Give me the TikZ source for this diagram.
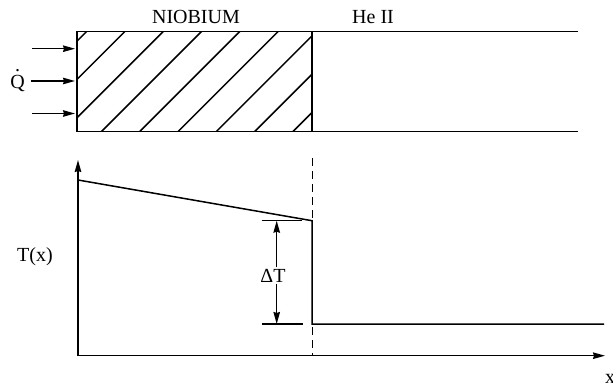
\documentclass[tikz,border=0pt]{standalone}
\usepackage{fontspec}
\setmainfont{Liberation Serif}
\usetikzlibrary{arrows.meta}
\newcommand{\qdot}{\ooalign{Q\cr\hidewidth\raisebox{17pt}{.}\hidewidth\cr}}
\begin{document}
\begin{tikzpicture}[x=1pt,y=-1pt,line width=1.5pt,
  lbl/.style={font=\fontsize{20}{24}\selectfont,inner sep=0pt,anchor=base},
  arr/.style={-{Stealth[length=12pt,width=6.5pt,inset=1pt]}},
  darr/.style={{Stealth[length=12pt,width=6.5pt,inset=1pt]}-{Stealth[length=12pt,width=6.5pt,inset=1pt]}},
  dsh/.style={dash pattern=on 8pt off 5pt}]
\useasboundingbox (0,0) rectangle (613,390);
% ---------- top: niobium slab and He II ----------
\coordinate (nbTL) at (77,31.5);
\coordinate (nbBL) at (77,131.5);
\coordinate (nbTR) at (312,31.5);
\coordinate (nbBR) at (312,131.5);
\coordinate (heTR) at (578,31.5);
\coordinate (heBR) at (578,131.5);
\begin{scope}
  \clip (nbTL) rectangle (nbBR);
  \foreach \c in {0,...,8} \draw ({-13.4+38.3*\c},131.5) -- ++(100,-100);
\end{scope}
\draw (heTR) -- (nbTL) -- (nbBL) -- (heBR);
\draw (nbTR) -- (nbBR);
\node[lbl] (nb) at (196,24) {NIOBIUM};
\node[lbl] (he) at (373,24) {He II};
% heat input arrows
\node[lbl] (Q) at (17.5,89) {\qdot};
\coordinate (a1s) at (32,48.7);  \coordinate (a1e) at (75,48.7);
\coordinate (a2s) at (31,81);    \coordinate (a2e) at (75,81);
\coordinate (a3s) at (32,113.5); \coordinate (a3e) at (75,113.5);
\draw[arr] (a1s) -- (a1e);
\draw[arr] (a2s) -- (a2e);
\draw[arr] (a3s) -- (a3e);
% ---------- bottom: temperature profile ----------
\coordinate (O) at (78,355.7);
\coordinate (ytip) at (78,160);
\coordinate (xtip) at (605,355.7);
\draw[arr] (O) -- (ytip);
\draw[arr] (O) -- (xtip);
\coordinate (dtop) at (312.3,158);
\coordinate (dbot) at (312.3,355.7);
\draw[dsh] (dtop) -- (dbot);
\coordinate (t0) at (78,180);
\coordinate (t1) at (312,220.7);
\coordinate (t2) at (312,324);
\coordinate (t3) at (604,324);
\draw (t0) -- (t1) -- (t2) -- (t3);
% Delta T dimension
\coordinate (k1a) at (261.7,220.7); \coordinate (k1b) at (301.7,220.7);
\coordinate (k2a) at (261.7,324);   \coordinate (k2b) at (303,324);
\draw (k1a) -- (k1b);
\draw (k2a) -- (k2b);
\coordinate (da) at (276.7,220.7);
\coordinate (db) at (276.7,324);
\draw[darr] (da) -- (db);
\node[lbl,fill=white,inner sep=2pt] (dT) at (273,282) {ΔT};
\node[lbl] (Tx) at (35,261) {T(x)};
\node[lbl] (xl) at (610,383) {x};
\end{tikzpicture}
\end{document}
